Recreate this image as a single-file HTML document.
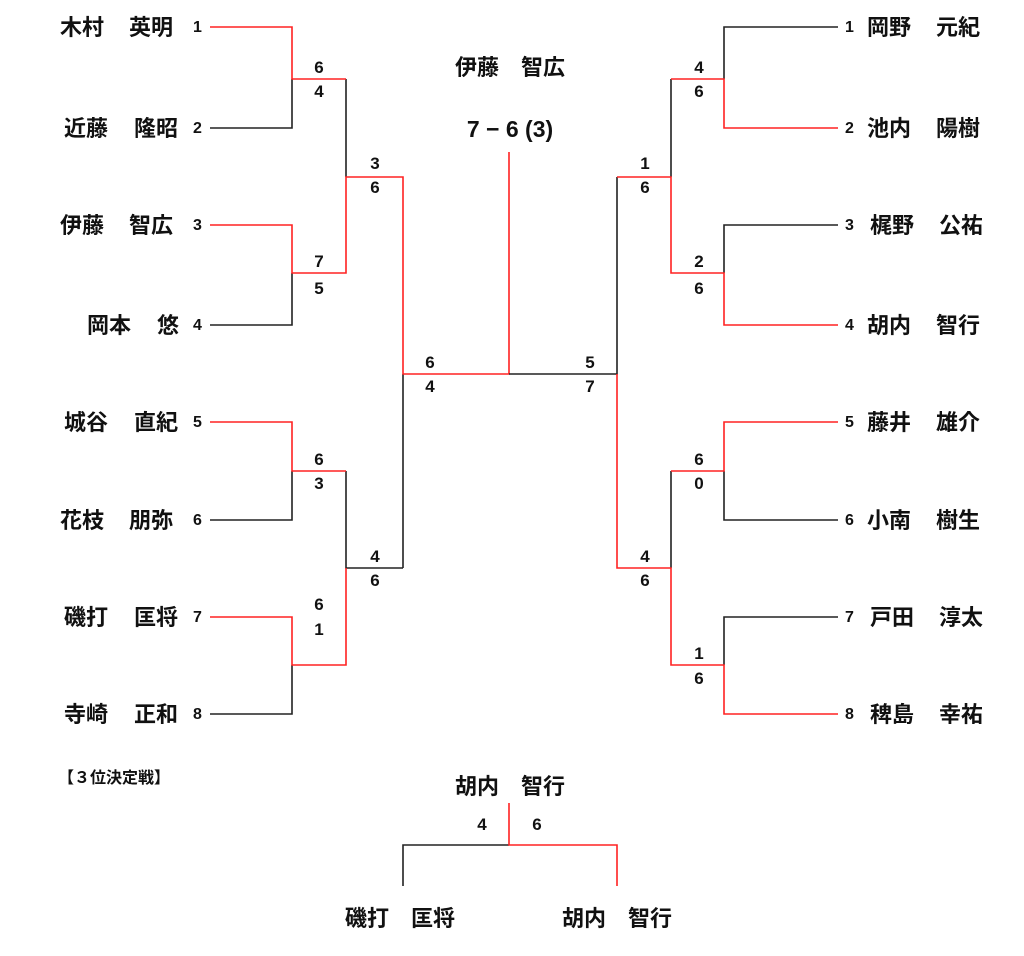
<!DOCTYPE html>
<html><head><meta charset="utf-8"><style>
body{margin:0;background:#fff}
svg text{font-family:"Liberation Sans","Noto Sans CJK JP",sans-serif;font-weight:bold;fill:#111}
.n{font-size:22px}
.s{font-size:17px;text-anchor:middle}
svg text.ln{font-size:13px;font-weight:normal;fill:#666}
svg text.rn{font-size:13px;font-weight:normal;fill:#f44}
</style></head><body>
<svg width="1024" height="951" viewBox="0 0 1024 951" xmlns="http://www.w3.org/2000/svg">
<g fill="none" stroke-width="1.6">
<g stroke="#222">
<path d="M210 128H292V79"/><path d="M210 325H292V273"/><path d="M210 520H292V471"/><path d="M210 714H292V665"/>
<path d="M346 79V177"/><path d="M346 471V568H403"/><path d="M403 374V568"/>
</g>
<g stroke="#f22">
<path d="M210 27H292V79H346"/><path d="M210 225H292V273H346V177H403V374H509V152"/>
<path d="M210 422H292V471H346"/><path d="M210 617H292V665H346V568"/>
</g>
<g stroke="#222">
<path d="M838 27H724V79"/><path d="M838 225H724V273"/><path d="M838 520H724V471"/><path d="M838 617H724V665"/>
<path d="M671 79V177"/><path d="M671 471V568"/><path d="M509 374H617V177"/>
</g>
<g stroke="#f22">
<path d="M838 128H724V79H671"/><path d="M838 325H724V273H671V177H617"/>
<path d="M838 422H724V471H671"/><path d="M838 714H724V665H671V568H617V374"/>
</g>
<path stroke="#222" d="M403 886V845H509"/>
<path stroke="#f22" d="M509 803V845H617V886"/>
</g>
<g class="n">
<text x="60" y="35">木村</text><text x="129" y="35">英明</text>
<text x="64" y="136">近藤</text><text x="134" y="136">隆昭</text>
<text x="60" y="233">伊藤</text><text x="129" y="233">智広</text>
<text x="87" y="333">岡本</text><text x="157" y="333">悠</text>
<text x="64" y="430">城谷</text><text x="134" y="430">直紀</text>
<text x="60" y="528">花枝</text><text x="129" y="528">朋弥</text>
<text x="64" y="625">磯打</text><text x="134" y="625">匡将</text>
<text x="64" y="722">寺崎</text><text x="134" y="722">正和</text>
</g>
<g class="ln"><text x="193" y="32">1</text><text x="193" y="133">2</text><text x="193" y="230">3</text><text x="193" y="330">4</text><text x="193" y="427">5</text><text x="193" y="525">6</text><text x="193" y="622">7</text><text x="193" y="719">8</text></g>
<g class="n">
<text x="867" y="35">岡野</text><text x="936" y="35">元紀</text>
<text x="867" y="136">池内</text><text x="936" y="136">陽樹</text>
<text x="870" y="233">梶野</text><text x="939" y="233">公祐</text>
<text x="867" y="333">胡内</text><text x="936" y="333">智行</text>
<text x="867" y="430">藤井</text><text x="936" y="430">雄介</text>
<text x="867" y="528">小南</text><text x="936" y="528">樹生</text>
<text x="870" y="625">戸田</text><text x="939" y="625">淳太</text>
<text x="870" y="722">稗島</text><text x="939" y="722">幸祐</text>
</g>
<g class="rn"><text x="845" y="32">1</text><text x="845" y="133">2</text><text x="845" y="230">3</text><text x="845" y="330">4</text><text x="845" y="427">5</text><text x="845" y="525">6</text><text x="845" y="622">7</text><text x="845" y="719">8</text></g>
<g class="s">
<text x="319" y="73">6</text><text x="319" y="97">4</text>
<text x="319" y="267">7</text><text x="319" y="294">5</text>
<text x="319" y="465">6</text><text x="319" y="489">3</text>
<text x="319" y="610">6</text><text x="319" y="635">1</text>
<text x="375" y="169">3</text><text x="375" y="193">6</text>
<text x="375" y="562">4</text><text x="375" y="586">6</text>
<text x="430" y="368">6</text><text x="430" y="392">4</text>
<text x="590" y="368">5</text><text x="590" y="392">7</text>
<text x="645" y="169">1</text><text x="645" y="193">6</text>
<text x="645" y="562">4</text><text x="645" y="586">6</text>
<text x="699" y="73">4</text><text x="699" y="97">6</text>
<text x="699" y="267">2</text><text x="699" y="294">6</text>
<text x="699" y="465">6</text><text x="699" y="489">0</text>
<text x="699" y="659">1</text><text x="699" y="684">6</text>
<text x="482" y="830">4</text><text x="537" y="830">6</text>
</g>
<text class="n" x="510" y="75" text-anchor="middle">伊藤　智広</text>
<text x="510" y="137" text-anchor="middle" style="font-size:23px">7 − 6 (3)</text>
<text x="58" y="783" style="font-size:16px">【３位決定戦】</text>
<text class="n" x="510" y="794" text-anchor="middle">胡内　智行</text>
<text class="n" x="400" y="926" text-anchor="middle">磯打　匡将</text>
<text class="n" x="617" y="926" text-anchor="middle">胡内　智行</text>
</svg>
</body></html>
